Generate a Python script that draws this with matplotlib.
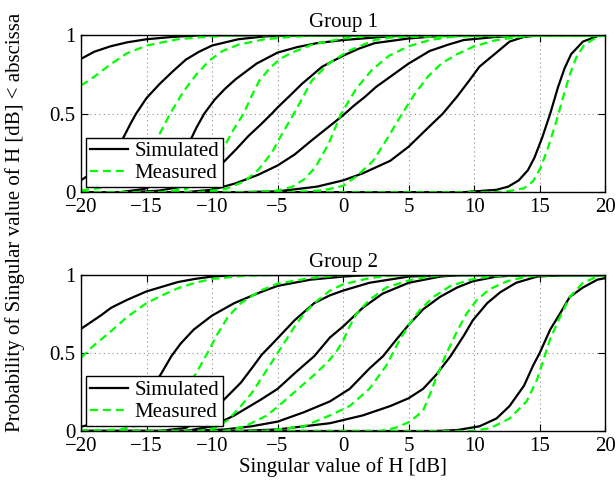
import matplotlib
matplotlib.use('Agg')
import matplotlib.pyplot as plt
from matplotlib.lines import Line2D

# Group 1: CDF curves (x in dB, y probability)
g1_sim_x = [
    [-20, -19, -17.75, -16.5, -15, -13, -11, 20],
    [-20, -19, -18, -17, -16.2, -15.8, -15, -14, -13, -12, -11, -10, -8, -6, -4, 20],
    [-20, -17, -15.2, -14, -13, -12, -11.2, -10.6, -9.8, -9, -8.2, -7.4, -6.6, -5, -3.5, -2, 0, 3, 5, 20],
    [-20, -16, -14, -12, -10.5, -9.26, -8.2, -7.2, -6.3, -5.45, -5, -4, -3.15, -1.6, 0, 1.2, 2.4, 5, 8, 20],
    [-20, -12, -10, -8.25, -6.5, -5, -3.7, -2.4, -1.2, 0, 0.8, 1.7, 2.5, 3.5, 5, 6.6, 8, 9.2, 11.7, 14, 20],
    [-20, -8, -5, -2, 0, 1.5, 3.6, 5, 6.6, 7.6, 8.7, 9.7, 10.4, 11.7, 12.7, 13.8, 15, 20],
    [-20, 9.2, 11.7, 12.6, 13.4, 14.1, 14.6, 15.2, 15.8, 16.4, 16.9, 17.4, 18.3, 19.4, 20],
]
g1_sim_y = [
    [0.85, 0.895, 0.93, 0.955, 0.975, 0.99, 1, 1],
    [0.076, 0.13, 0.2, 0.31, 0.44, 0.5, 0.6, 0.69, 0.77, 0.845, 0.895, 0.935, 0.975, 0.993, 1, 1],
    [0, 0, 0.02, 0.06, 0.14, 0.27, 0.41, 0.5, 0.59, 0.66, 0.72, 0.77, 0.82, 0.89, 0.925, 0.95, 0.97, 0.99, 1, 1],
    [0, 0, 0.01, 0.04, 0.1, 0.18, 0.27, 0.36, 0.43, 0.5, 0.54, 0.62, 0.69, 0.8, 0.87, 0.915, 0.95, 0.98, 1, 1],
    [0, 0, 0.015, 0.055, 0.11, 0.17, 0.24, 0.33, 0.41, 0.49, 0.55, 0.61, 0.67, 0.73, 0.82, 0.9, 0.94, 0.97, 0.99, 1, 1],
    [0, 0, 0.005, 0.035, 0.075, 0.12, 0.2, 0.29, 0.42, 0.5, 0.61, 0.72, 0.8, 0.89, 0.96, 0.99, 1, 1],
    [0, 0, 0.015, 0.035, 0.075, 0.14, 0.22, 0.35, 0.5, 0.67, 0.79, 0.88, 0.96, 0.995, 1],
]
g1_meas_x = [
    [-20, -19, -17.75, -16.5, -15, -12.6, -10.6, -8, 20],
    [-20, -18, -16, -15, -14.2, -13.2, -12.2, -11.2, -10.2, -9.2, -8, -6, -4, -2, 20],
    [-20, -14, -12, -10.5, -9.3, -8.5, -7.6, -7.0, -6.4, -5.6, -4.8, -3.9, -2.4, 0, 2.5, 20],
    [-20, -11, -9, -7.5, -6.5, -5.45, -4.6, -3.9, -3.1, -2.4, -1.1, 0.4, 2.4, 4, 20],
    [-20, -7, -5, -3.9, -3, -2.1, -1.1, -0.15, 1, 2.2, 3.5, 5, 6.6, 9, 20],
    [-20, -4, -1.5, 0, 1, 2.3, 3.5, 4.5, 5.5, 6.5, 7.5, 8.7, 10, 11.7, 13.5, 15, 20],
    [-20, 12.2, 13.8, 14.5, 15.1, 15.7, 16.3, 16.8, 17.3, 17.8, 18.4, 19.4, 20],
]
g1_meas_y = [
    [0.68, 0.735, 0.815, 0.885, 0.935, 0.975, 0.99, 1, 1],
    [0.01, 0.035, 0.12, 0.22, 0.34, 0.5, 0.64, 0.75, 0.84, 0.9, 0.94, 0.975, 0.99, 1, 1],
    [0, 0, 0.02, 0.1, 0.25, 0.38, 0.5, 0.61, 0.71, 0.79, 0.85, 0.89, 0.94, 0.98, 1, 1],
    [0, 0, 0.02, 0.07, 0.14, 0.25, 0.38, 0.48, 0.6, 0.71, 0.82, 0.9, 0.97, 0.99, 1],
    [0, 0, 0.01, 0.034, 0.08, 0.16, 0.31, 0.5, 0.66, 0.78, 0.87, 0.93, 0.97, 1, 1],
    [0, 0, 0.012, 0.04, 0.1, 0.2, 0.36, 0.5, 0.63, 0.74, 0.82, 0.88, 0.93, 0.97, 0.99, 1, 1],
    [0, 0, 0.025, 0.07, 0.16, 0.3, 0.46, 0.61, 0.75, 0.86, 0.94, 0.99, 1],
]

# Group 2
g2_sim_x = [
    [-20, -18.5, -17.7, -16.5, -15, -13.8, -12.6, -11.3, -10, -8, 20],
    [-20, -18, -16, -14.6, -13.9, -13.1, -12.4, -11.4, -10, -8.3, -6.3, -5, -2.5, 0, 2, 20],
    [-20, -14, -12, -10.5, -9.1, -7.8, -6.9, -6.2, -5.5, -4.6, -3.7, -2.2, -1, 0, 2, 5, 8, 20],
    [-20, -12, -10, -8.3, -6.3, -5, -3.7, -2.2, -1, 0, 1.5, 3, 5, 7.4, 9, 20],
    [-20, -12, -9, -7, -5, -3, -1, 0.5, 2, 3.05, 4.1, 5, 6.1, 7.4, 8.7, 9.9, 11.7, 14, 20],
    [-20, -8, -5, -3, -1, 1.5, 3.6, 5, 6.1, 7.1, 8.2, 9.2, 9.9, 11, 12, 13.2, 14.8, 17, 20],
    [-20, 7, 8.7, 10.4, 11.7, 12.7, 13.8, 14.5, 15, 15.8, 16.6, 17.3, 18.3, 19.4, 20],
]
g2_sim_y = [
    [0.655, 0.74, 0.79, 0.84, 0.895, 0.925, 0.955, 0.975, 0.99, 1, 1],
    [0.027, 0.07, 0.16, 0.28, 0.365, 0.48, 0.56, 0.65, 0.74, 0.82, 0.89, 0.93, 0.97, 0.99, 1, 1],
    [0, 0, 0.02, 0.09, 0.2, 0.31, 0.41, 0.49, 0.55, 0.63, 0.71, 0.82, 0.87, 0.9, 0.95, 0.99, 1, 1],
    [0, 0, 0.03, 0.1, 0.2, 0.27, 0.37, 0.48, 0.6, 0.67, 0.79, 0.88, 0.95, 0.99, 1, 1],
    [0, 0, 0.01, 0.03, 0.06, 0.12, 0.19, 0.27, 0.4, 0.48, 0.59, 0.68, 0.78, 0.86, 0.92, 0.96, 0.99, 1, 1],
    [0, 0, 0.01, 0.03, 0.05, 0.1, 0.16, 0.21, 0.27, 0.36, 0.48, 0.61, 0.71, 0.82, 0.89, 0.95, 0.99, 1, 1],
    [0, 0, 0.006, 0.03, 0.08, 0.16, 0.29, 0.42, 0.5, 0.65, 0.76, 0.86, 0.92, 0.97, 0.98],
]
g2_meas_x = [
    [-20, -19, -17.7, -16.5, -15, -13.8, -12.6, -11.3, -10, -7.5, -5, 20],
    [-20, -17, -15, -13.5, -12.4, -11.25, -10.35, -9.6, -8.8, -7.8, -6.3, -5, -2.5, 0, 20],
    [-20, -11, -9.8, -8.8, -7.8, -7, -6.3, -5.6, -5, -4.3, -3.7, -3, -2.2, -1, 0, 2, 4, 20],
    [-20, -9, -7.5, -5.8, -4.8, -3.7, -2.2, -1.2, -0.5, 0, 0.5, 1, 2, 3.3, 5, 6.6, 8, 20],
    [-20, -6, -3, -1, 0.5, 2, 3.3, 4.1, 5, 5.9, 6.9, 8.2, 9.7, 11.2, 13, 20],
    [-20, 2.8, 4, 5.1, 6.1, 6.6, 7.1, 7.9, 8.7, 9.4, 10.2, 11.2, 12.5, 14, 16, 20],
    [-20, 9.7, 11.2, 12.7, 14, 14.8, 15.3, 15.8, 16.6, 17.3, 18.3, 19.4, 20],
]
g2_meas_y = [
    [0.47, 0.55, 0.64, 0.73, 0.82, 0.87, 0.915, 0.95, 0.975, 0.995, 1, 1],
    [0, 0.01, 0.05, 0.14, 0.24, 0.365, 0.5, 0.62, 0.73, 0.82, 0.9, 0.945, 0.98, 1, 1],
    [0, 0, 0.017, 0.07, 0.16, 0.24, 0.33, 0.42, 0.5, 0.59, 0.67, 0.75, 0.82, 0.9, 0.94, 0.98, 1, 1],
    [0, 0, 0.03, 0.1, 0.17, 0.25, 0.36, 0.44, 0.51, 0.58, 0.67, 0.75, 0.84, 0.92, 0.965, 0.99, 1, 1],
    [0, 0, 0.03, 0.1, 0.16, 0.27, 0.42, 0.55, 0.68, 0.78, 0.86, 0.93, 0.97, 0.99, 1, 1],
    [0, 0, 0.02, 0.06, 0.13, 0.23, 0.34, 0.5, 0.64, 0.75, 0.84, 0.91, 0.96, 0.99, 1, 1],
    [0, 0, 0.017, 0.08, 0.19, 0.33, 0.46, 0.59, 0.74, 0.86, 0.95, 0.99, 1],
]

titles = ['Group 1', 'Group 2']
labels = ['Simulated', 'Measured']
xticks = [-20, -15, -10, -5, 0, 5, 10, 15, 20]
yticks = [0, 0.5, 1]
yticklabels = ['0', '0.5', '1']

plt.rcParams['font.family'] = ['Liberation Serif', 'DejaVu Serif']
plt.rcParams['font.size'] = 15

GREEN = (0, 1, 0)
DASH = (0, (3.6, 2.2))


def draw_group(ax, sim_x, sim_y, meas_x, meas_y, title):
    for x, y in zip(sim_x, sim_y):
        ax.plot(x, y, color='k', lw=1.6, solid_joinstyle='round')
    for x, y in zip(meas_x, meas_y):
        ax.plot(x, y, color=GREEN, lw=1.6, ls=DASH)

    ax.set_xlim(-20, 20)
    ax.set_ylim(0, 1)
    ax.set_xticks(xticks)
    ax.set_yticks(yticks)
    ax.set_yticklabels(yticklabels)
    ax.grid(True, color='0.55', ls=(0, (1, 3)), lw=0.8)
    ax.tick_params(direction='in', top=True, right=True, length=5,
                   width=0.8, labelsize=15, pad=4)
    for sp in ax.spines.values():
        sp.set_linewidth(1.0)
    ax.set_title(title, fontsize=15, pad=6)

    handles = [Line2D([], [], color='k', lw=1.6),
               Line2D([], [], color=GREEN, lw=1.6, ls=DASH)]
    leg = ax.legend(handles, labels, loc='lower left',
                    bbox_to_anchor=(0.01, 0.032), borderaxespad=0,
                    fancybox=False, edgecolor='k', framealpha=1,
                    handlelength=1.8, handletextpad=0.3, labelspacing=0.1,
                    borderpad=0.2, fontsize=15)
    leg.get_frame().set_linewidth(1.0)


fig = plt.figure(figsize=(6.16, 4.84), dpi=100)
ax1 = fig.add_axes([0.1315, 0.603, 0.851, 0.324])
ax2 = fig.add_axes([0.1315, 0.1095, 0.851, 0.3223])

draw_group(ax1, g1_sim_x, g1_sim_y, g1_meas_x, g1_meas_y, titles[0])
draw_group(ax2, g2_sim_x, g2_sim_y, g2_meas_x, g2_meas_y, titles[1])

ax2.set_xlabel('Singular value of H [dB]', fontsize=15, labelpad=1)
fig.text(0.024, 0.54, 'Probability of Singular value of H [dB] < abscissa',
         rotation=90, ha='center', va='center', fontsize=15)

fig.savefig('out.png', dpi=100)
